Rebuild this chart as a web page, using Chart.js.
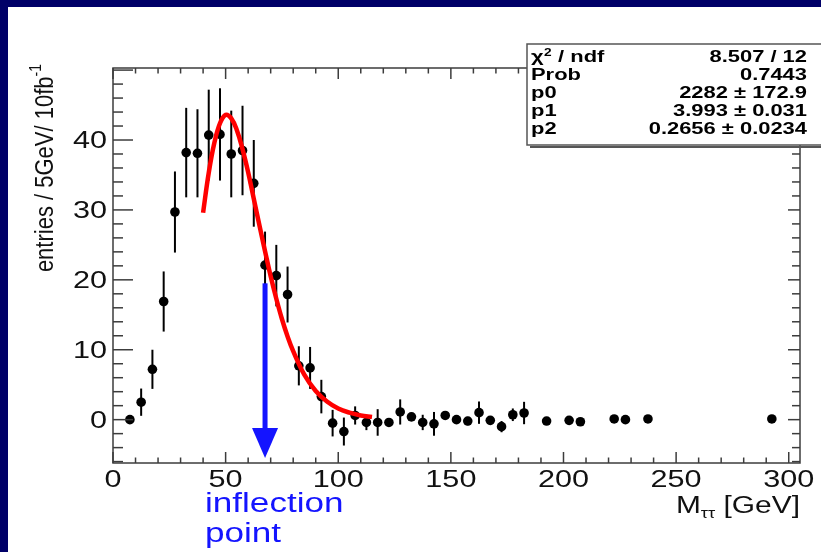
<!DOCTYPE html>
<html>
<head>
<meta charset="utf-8">
<script src="https://cdn.jsdelivr.net/npm/chart.js@4"></script>
<style>
  html, body { margin: 0; padding: 0; background: #fff; }
  #wrap { width: 821px; height: 552px; }
</style>
</head>
<body>
<div id="wrap"><canvas id="chart" width="821" height="552"></canvas></div>
<script>
const massBins = [7.5, 12.5, 17.5, 22.5, 27.5, 32.5, 37.5, 42.5, 47.5, 52.5,
    57.5, 62.5, 67.5, 72.5, 77.5, 82.5, 87.5, 92.5, 97.5, 102.5,
    107.5, 112.5, 117.5, 122.5, 127.5, 132.5, 137.5, 142.5, 147.5, 152.5,
    157.5, 162.5, 167.5, 172.5, 177.5, 182.5, 192.5, 202.5, 207.5, 222.5,
    227.5, 237.5, 292.5];
const entries = [0, 2.5, 7.2, 16.9, 29.7, 38.2, 38.1, 40.7, 40.8, 38.0,
    38.5, 33.8, 22.1, 20.6, 17.9, 7.7, 7.4, 3.3, -0.5, -1.7,
    0.6, -0.4, -0.4, -0.4, 1.1, 0.4, -0.4, -0.6, 0.6, 0.0,
    -0.2, 1.0, -0.1, -1.0, 0.7, 0.95, -0.2, -0.1, -0.3, 0.1,
    0.0, 0.1, 0.1];
const entryErrors = [0.3, 1.95, 2.8, 4.3, 5.8, 6.4, 6.3, 6.5, 6.6, 6.2,
    6.4, 6.2, 4.8, 4.4, 4.0, 2.8, 3.0, 2.4, 1.9, 2.0,
    1.3, 1.1, 1.9, 0.5, 1.8, 0.5, 1.1, 1.7, 0.5, 0.4,
    0.6, 1.6, 0.4, 0.8, 0.9, 1.6, 0, 0, 0, 0,
    0, 0, 0];

// Curva de ajuste (roja), leída punto a punto
const fitMass = [40, 42.5, 45, 47.5, 50, 52.5, 55, 57.5, 60, 62.5, 65, 67.5,
    70, 72.5, 75, 77.5, 80, 85, 90, 95, 100, 105, 110, 115];
const fitValues = [29.6, 35.3, 39.6, 42.4, 43.6, 43.1, 41.4, 38.7, 35.4, 31.6, 27.8, 24.1,
    20.5, 17.3, 14.4, 11.9, 9.8, 6.4, 4.1, 2.6, 1.6, 1.0, 0.6, 0.4];

// Flecha "inflection point": posición en GeV y extremos en entradas
const arrowMass = [67.5];
const arrowRange = [19.5, -1.2, -5.5];   // inicio, base de la punta, punta

// Ejes
const xTickLabels = [0, 50, 100, 150, 200, 250, 300];
const yTickLabels = [0, 10, 20, 30, 40];

// Caja de estadísticas
const statNames = ['χ', 'Prob', 'p0', 'p1', 'p2'];
const statValues = ['8.507 / 12', '0.7443', '2282 ± 172.9', '3.993 ± 0.031', '0.2656 ± 0.0234'];

const estilo = {
    navy: '#000068',
    axis: '#3c3c3c',
    font: '"Liberation Sans", Arial, Helvetica, sans-serif',
    blue: '#1414ff'
};

function textoEstirado(ctx, str, x, y, font, color, align, sx) {
    ctx.save();
    ctx.translate(x, y);
    ctx.scale(sx, 1);
    ctx.font = font;
    ctx.fillStyle = color;
    ctx.textAlign = align;
    ctx.textBaseline = 'alphabetic';
    ctx.fillText(str, 0, 0);
    ctx.restore();
}

function linea(ctx, x1, y1, x2, y2) {
    ctx.beginPath();
    ctx.moveTo(x1, y1);
    ctx.lineTo(x2, y2);
    ctx.stroke();
}

const rootStyle = {
    id: 'rootStyle',
    beforeDraw(chart) {
        const ctx = chart.ctx;
        ctx.save();
        ctx.fillStyle = '#fff';
        ctx.fillRect(0, 0, chart.width, chart.height);
        ctx.fillStyle = estilo.navy;
        ctx.fillRect(0, 0, chart.width, 7);
        ctx.fillRect(0, 0, 8, chart.height);
        ctx.restore();
    },
    beforeDatasetsDraw(chart) {
        const ctx = chart.ctx;
        const xs = chart.scales.x, ys = chart.scales.y;
        ctx.save();
        // barras de error
        ctx.strokeStyle = '#000';
        ctx.lineWidth = 2;
        massBins.forEach((m, i) => {
            if (!entryErrors[i]) return;
            const px = xs.getPixelForValue(m);
            linea(ctx, px, ys.getPixelForValue(entries[i] + entryErrors[i]),
                px, ys.getPixelForValue(entries[i] - entryErrors[i]));
        });
        // flecha azul
        const ax = xs.getPixelForValue(arrowMass[0]);
        const yTop = ys.getPixelForValue(arrowRange[0]);
        const yBase = ys.getPixelForValue(arrowRange[1]);
        const yTip = ys.getPixelForValue(arrowRange[2]);
        ctx.fillStyle = estilo.blue;
        ctx.fillRect(ax - 2.5, yTop, 5, yBase - yTop + 2);
        ctx.beginPath();
        ctx.moveTo(ax - 13, yBase);
        ctx.lineTo(ax + 13, yBase);
        ctx.lineTo(ax, yTip);
        ctx.closePath();
        ctx.fill();
        ctx.restore();
    },
    afterDatasetsDraw(chart) {
        const ctx = chart.ctx;
        const area = chart.chartArea;
        const xs = chart.scales.x, ys = chart.scales.y;
        ctx.save();
        // marco
        ctx.strokeStyle = estilo.axis;
        ctx.lineWidth = 1.5;
        ctx.strokeRect(area.left, area.top, area.right - area.left, area.bottom - area.top);
        // marcas hacia dentro
        for (let v = 0; v <= 300; v += 10) {
            const px = xs.getPixelForValue(v);
            const len = v % 50 === 0 ? 11 : 5.5;
            linea(ctx, px, area.bottom, px, area.bottom - len);
            linea(ctx, px, area.top, px, area.top + len);
        }
        for (let v = -6; v <= 50; v += 2) {
            const py = ys.getPixelForValue(v);
            const major = v % 10 === 0;
            linea(ctx, area.left, py, area.left + (major ? 20 : 10), py);
            linea(ctx, area.right, py, area.right - (major ? 12 : 8), py);
        }
        // etiquetas de los ejes
        const fTick = '23px ' + estilo.font;
        xTickLabels.forEach(v => {
            textoEstirado(ctx, String(v), xs.getPixelForValue(v), area.bottom + 24, fTick, '#111', 'center', 1.33);
        });
        yTickLabels.forEach(v => {
            textoEstirado(ctx, String(v), area.left - 6, ys.getPixelForValue(v) + 8, fTick, '#111', 'right', 1.33);
        });

        // título eje X: M_ττ [GeV]
        const fTitle = '23px ' + estilo.font;
        const fSub = '14px ' + estilo.font;
        ctx.font = fTitle;
        const wGeV = ctx.measureText(' [GeV]').width * 1.3;
        ctx.font = fSub;
        const wSub = ctx.measureText('ττ').width * 1.3;
        let xr = area.right;
        textoEstirado(ctx, ' [GeV]', xr, 513, fTitle, '#111', 'right', 1.3);
        xr -= wGeV;
        textoEstirado(ctx, 'ττ', xr, 518, fSub, '#111', 'right', 1.3);
        xr -= wSub;
        textoEstirado(ctx, 'M', xr, 513, fTitle, '#111', 'right', 1.3);

        // título eje Y rotado
        ctx.save();
        ctx.translate(53, area.top - 4);
        ctx.rotate(-Math.PI / 2);
        ctx.scale(1, 1.2);
        ctx.fillStyle = '#111';
        ctx.font = '14px ' + estilo.font;
        const wSup = ctx.measureText('-1').width;
        ctx.font = '22px ' + estilo.font;
        const wMain = ctx.measureText('entries / 5GeV/ 10fb').width;
        ctx.textAlign = 'left';
        ctx.fillText('entries / 5GeV/ 10fb', -(wMain + wSup), 0);
        ctx.font = '14px ' + estilo.font;
        ctx.fillText('-1', -wSup, -10);
        ctx.restore();

        // texto "inflection point"
        const fInf = '27px ' + estilo.font;
        textoEstirado(ctx, 'inflection', 205, 512, fInf, estilo.blue, 'left', 1.3);
        textoEstirado(ctx, 'point', 205, 542, fInf, estilo.blue, 'left', 1.3);

        // caja de estadísticas
        const bx = 527, by = 44, bw = 300, bh = 101;
        ctx.fillStyle = '#fff';
        ctx.fillRect(bx, by, bw, bh);
        ctx.strokeStyle = '#555';
        ctx.lineWidth = 1.5;
        ctx.strokeRect(bx, by, bw, bh);
        ctx.lineWidth = 2;
        linea(ctx, bx + 3, by + bh + 2, bx + bw, by + bh + 2);
        const fStat = 'bold 16px ' + estilo.font;
        statNames.forEach((name, i) => {
            const yb = 62 + i * 18;
            if (i === 0) {
                textoEstirado(ctx, 'χ', 531, yb, fStat, '#000', 'left', 1.37);
                textoEstirado(ctx, '2', 544, yb - 6, 'bold 10px ' + estilo.font, '#000', 'left', 1.37);
                textoEstirado(ctx, ' / ndf', 552, yb, fStat, '#000', 'left', 1.37);
            } else {
                textoEstirado(ctx, name, 531, yb, fStat, '#000', 'left', 1.37);
            }
            textoEstirado(ctx, statValues[i], 807, yb, fStat, '#000', 'right', 1.37);
        });
        ctx.restore();
    }
};

const ctx = document.getElementById('chart').getContext('2d');
const chart = new Chart(ctx, {
    type: 'scatter',
    data: {
        datasets: [
            {
                label: 'fit',
                data: fitMass.map((m, i) => ({ x: m, y: fitValues[i] })),
                showLine: true,
                borderColor: '#ff0000',
                borderWidth: 4.5,
                pointRadius: 0,
                tension: 0.4,
                fill: false,
                order: 0
            },
            {
                label: 'datos',
                data: massBins.map((m, i) => ({ x: m, y: entries[i] })),
                pointRadius: 4.8,
                backgroundColor: '#000',
                borderColor: '#000',
                borderWidth: 0,
                order: 1
            }
        ]
    },
    options: {
        responsive: false,
        animation: false,
        devicePixelRatio: 1,
        layout: { padding: { left: 113, top: 68, right: 21, bottom: 89 } },
        plugins: {
            legend: { display: false },
            tooltip: { enabled: false }
        },
        scales: {
            x: { type: 'linear', min: 0, max: 305, display: false },
            y: { type: 'linear', min: -6.2, max: 50.3, display: false }
        }
    },
    plugins: [rootStyle]
});
</script>
</body>
</html>
